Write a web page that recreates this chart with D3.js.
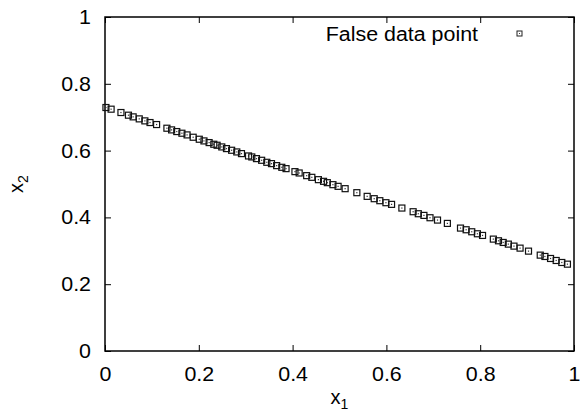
<!DOCTYPE html>
<html>
<head>
<meta charset="utf-8">
<script src="https://cdn.jsdelivr.net/npm/d3@7"></script>
<style>
  body { margin: 0; background: #fff; }
  text { font-family: "Liberation Sans", Arial, sans-serif; fill: #000; }
</style>
</head>
<body>
<script>
// data points
var x1 = [0.002, 0.013, 0.034, 0.050, 0.060, 0.073, 0.085, 0.096, 0.110, 0.132,
  0.142, 0.153, 0.164, 0.175, 0.188, 0.201, 0.211, 0.222, 0.232, 0.239,
  0.249, 0.259, 0.270, 0.281, 0.291, 0.306, 0.313, 0.323, 0.334, 0.345,
  0.355, 0.366, 0.377, 0.386, 0.405, 0.414, 0.430, 0.441, 0.455, 0.466,
  0.474, 0.486, 0.497, 0.512, 0.537, 0.559, 0.574, 0.586, 0.599, 0.611,
  0.633, 0.657, 0.668, 0.680, 0.693, 0.709, 0.730, 0.758, 0.770, 0.782,
  0.794, 0.805, 0.828, 0.839, 0.849, 0.860, 0.872, 0.885, 0.903, 0.928,
  0.938, 0.950, 0.962, 0.974, 0.986];
var x2 = [0.729, 0.724, 0.714, 0.706, 0.701, 0.695, 0.689, 0.684, 0.678, 0.667,
  0.662, 0.657, 0.652, 0.647, 0.640, 0.634, 0.629, 0.624, 0.619, 0.616,
  0.611, 0.606, 0.601, 0.596, 0.591, 0.584, 0.581, 0.576, 0.571, 0.565,
  0.561, 0.555, 0.550, 0.546, 0.537, 0.533, 0.525, 0.520, 0.513, 0.508,
  0.504, 0.498, 0.493, 0.486, 0.474, 0.463, 0.456, 0.450, 0.444, 0.439,
  0.428, 0.417, 0.411, 0.406, 0.399, 0.392, 0.382, 0.368, 0.363, 0.357,
  0.351, 0.346, 0.335, 0.330, 0.325, 0.320, 0.314, 0.308, 0.299, 0.287,
  0.283, 0.277, 0.271, 0.265, 0.260];
var xTicks = [0, 0.2, 0.4, 0.6, 0.8, 1];
var yTicks = [0, 0.2, 0.4, 0.6, 0.8, 1];
var legendLabel = "False data point";

var w = 581, h = 414;
var pLeft = 105, pRight = 574, pTop = 17, pBottom = 351;

var svg = d3.select("body").append("svg")
    .attr("width", w)
    .attr("height", h);

var x = d3.scaleLinear().domain([0, 1]).range([pLeft, pRight]);
var y = d3.scaleLinear().domain([0, 1]).range([pBottom, pTop]);

// the reference font is a bit wider than Liberation Sans
function widen(sel) {
  sel.each(function() {
    var len = this.getComputedTextLength();
    if (len > 0) d3.select(this).attr("textLength", len * 1.07).attr("lengthAdjust", "spacingAndGlyphs");
  });
}

// axes with inward ticks on all four sides
function styleAxis(g) {
  g.select(".domain").remove();
  g.selectAll(".tick line").attr("stroke", "#000").attr("stroke-width", 1);
  g.selectAll("text").style("font-size", "20px").attr("fill", "#000");
}

svg.append("g")
    .attr("transform", "translate(0," + pBottom + ")")
    .call(d3.axisBottom(x).tickValues(xTicks).tickSize(-6).tickPadding(16)
      .tickFormat(d3.format("~g")))
    .call(styleAxis)
    .call(function(g) { widen(g.selectAll("text")); });
svg.append("g")
    .attr("transform", "translate(0," + pTop + ")")
    .call(d3.axisTop(x).tickValues(xTicks).tickSize(-6).tickFormat(""))
    .call(styleAxis);
svg.append("g")
    .attr("transform", "translate(" + pLeft + ",0)")
    .call(d3.axisLeft(y).tickValues(yTicks).tickSize(-6).tickPadding(14)
      .tickFormat(d3.format("~g")))
    .call(styleAxis)
    .call(function(g) { widen(g.selectAll("text")); });
svg.append("g")
    .attr("transform", "translate(" + pRight + ",0)")
    .call(d3.axisRight(y).tickValues(yTicks).tickSize(-6).tickFormat(""))
    .call(styleAxis);

// frame
svg.append("rect")
    .attr("x", pLeft).attr("y", pTop)
    .attr("width", pRight - pLeft).attr("height", pBottom - pTop)
    .attr("fill", "none").attr("stroke", "#000").attr("stroke-width", 1.5);

// points: small square with a dot
var pts = svg.append("g").selectAll("g")
    .data(d3.range(x1.length))
    .enter().append("g")
    .attr("transform", function(i) { return "translate(" + x(x1[i]) + "," + y(x2[i]) + ")"; });
pts.append("rect")
    .attr("x", -3).attr("y", -3).attr("width", 6).attr("height", 6)
    .attr("fill", "none").attr("stroke", "#111").attr("stroke-width", 1.2);
pts.append("rect")
    .attr("x", -0.6).attr("y", -0.6).attr("width", 1.2).attr("height", 1.2)
    .attr("fill", "#333");

// legend
svg.append("text")
    .attr("x", 478).attr("y", 41)
    .attr("text-anchor", "end")
    .style("font-size", "20px")
    .text(legendLabel)
    .call(widen);
var lg = svg.append("g").attr("transform", "translate(519.5,33.5)");
lg.append("rect")
    .attr("x", -2.5).attr("y", -2.5).attr("width", 5).attr("height", 5)
    .attr("fill", "none").attr("stroke", "#222").attr("stroke-width", 1);
lg.append("rect")
    .attr("x", -0.5).attr("y", -0.5).attr("width", 1).attr("height", 1)
    .attr("fill", "#444");

// axis titles
var xt = svg.append("text")
    .attr("x", (pLeft + pRight) / 2).attr("y", 404)
    .attr("text-anchor", "middle")
    .style("font-size", "20px");
xt.append("tspan").text("x");
xt.append("tspan").attr("dy", 5).style("font-size", "14px").text("1");

var yt = svg.append("text")
    .attr("transform", "translate(23," + ((pTop + pBottom) / 2) + ") rotate(-90)")
    .attr("text-anchor", "middle")
    .style("font-size", "20px");
yt.append("tspan").text("x");
yt.append("tspan").attr("dy", 5).style("font-size", "14px").text("2");
</script>
</body>
</html>
